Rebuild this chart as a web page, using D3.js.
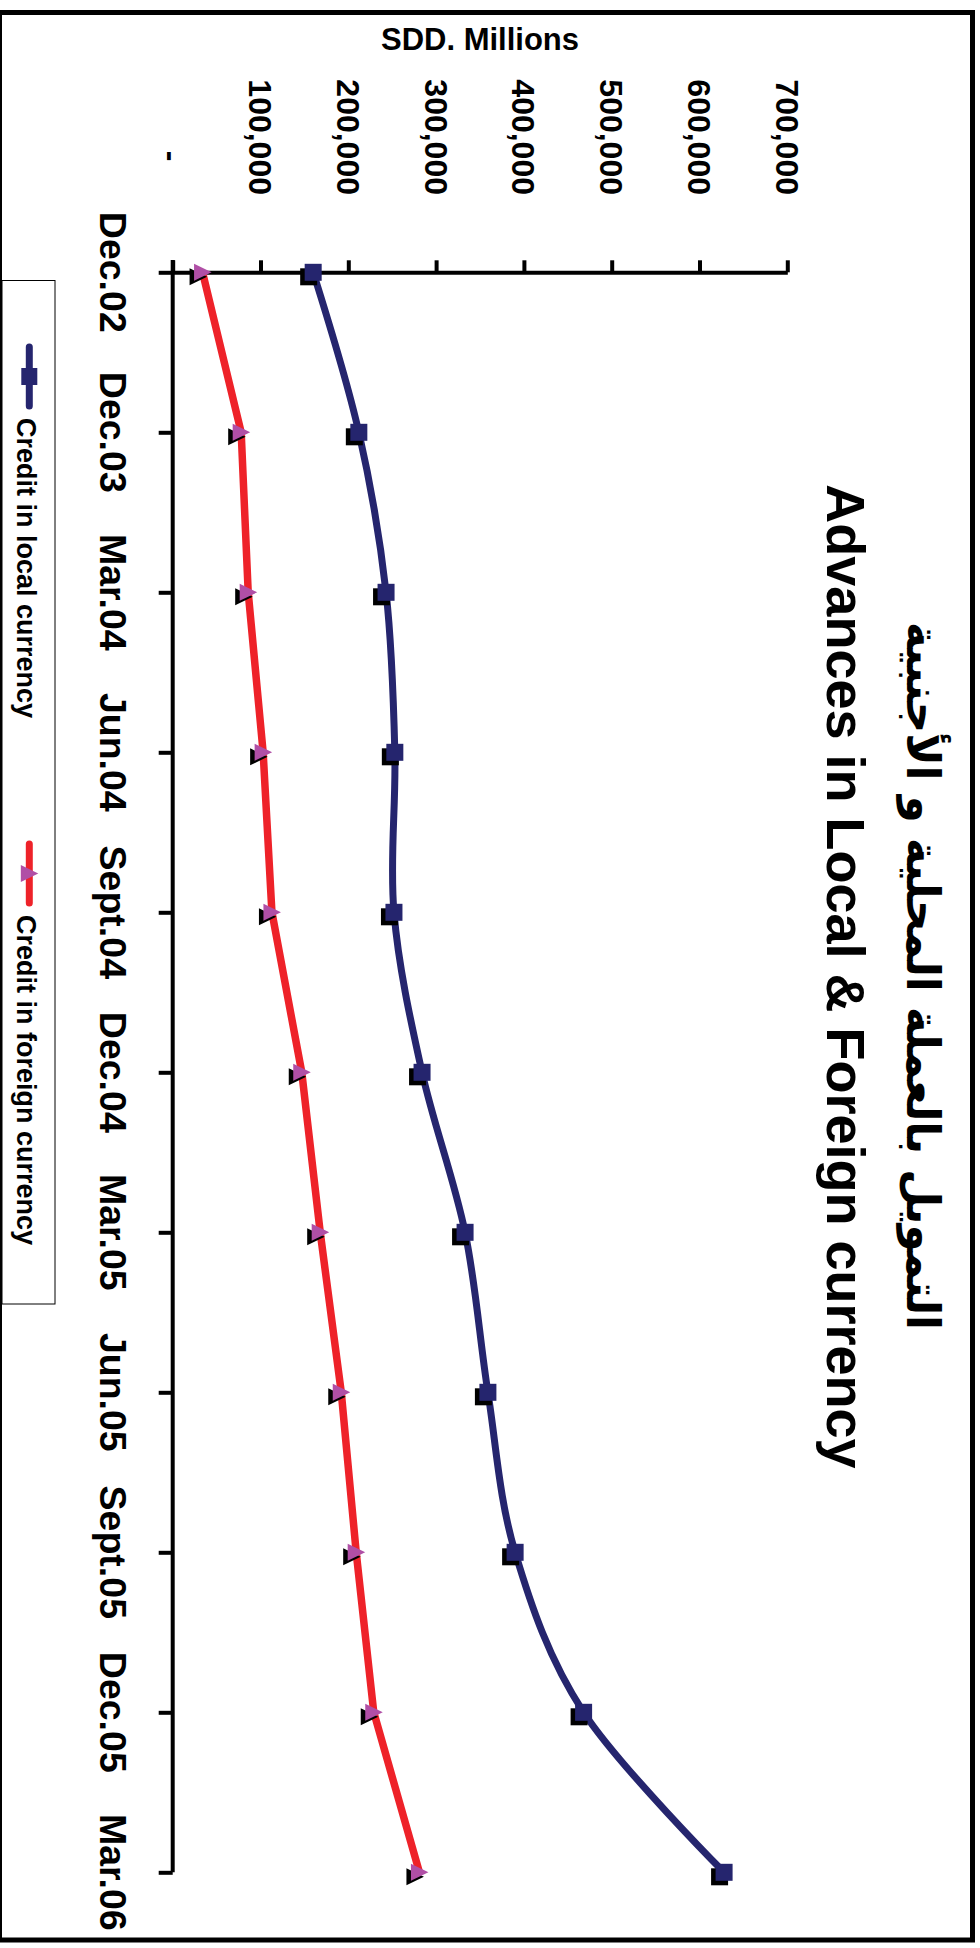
<!DOCTYPE html>
<html><head><meta charset="utf-8">
<script src="https://cdn.jsdelivr.net/npm/d3@7"></script>
<style>
body{margin:0;background:#fff}
svg{display:block}
text{font-family:"Liberation Sans",Arial,Helvetica,sans-serif;font-weight:bold;fill:#000}
</style>
</head><body>
<svg id="c" width="980" height="1948"></svg>
<script>
// ---- data ----
const categories = ["Dec.02","Dec.03","Mar.04","Jun.04","Sept.04","Dec.04","Mar.05","Jun.05","Sept.05","Dec.05","Mar.06"];
const localCredit   = [160000, 212000, 243000, 253000, 252000, 284000, 333000, 359000, 390000, 468000, 628000];
const foreignCredit = [34000, 78000, 86000, 103000, 113000, 147000, 168000, 192000, 209000, 229000, 281000];
const valueTicks = [0, 100000, 200000, 300000, 400000, 500000, 600000, 700000];
const valueTickLabels = ["-", "100,000", "200,000", "300,000", "400,000", "500,000", "600,000", "700,000"];
const seriesNames = ["Credit in local currency", "Credit in foreign currency"];
const titleEn = "Advances in Local & Foreign currency";
const titleAr = "التمويل بالعملة المحلية و الأجنبية";
const axisTitle = "SDD. Millions";

// ---- layout ----
const svg = d3.select("#c");
const navy = "#25256e", red = "#ee2229", magenta = "#b04fa6";

// outer border
svg.append("rect").attr("x", -0.5).attr("y", 12.5).attr("width", 973).attr("height", 1927.5)
  .attr("fill", "none").attr("stroke", "#000").attr("stroke-width", 5);

const x = d3.scaleLinear().domain([0, 700000]).range([172.7, 787.3]);
const y = d3.scalePoint().domain(categories).range([272.3, 1872.3]);

// value axis (horizontal, ticks upward)
const gx = svg.append("g").attr("transform", "translate(0,272.3)")
  .call(d3.axisTop(x).tickValues(valueTicks).tickSize(12).tickSizeOuter(0).tickFormat(""));
gx.selectAll("path,line").attr("stroke", "#000").attr("stroke-width", 4);

// category axis (vertical, ticks leftward)
const gy = svg.append("g").attr("transform", "translate(172.7,0)")
  .call(d3.axisLeft(y).tickSize(14).tickSizeOuter(0).tickFormat(""));
gy.selectAll("path,line").attr("stroke", "#000").attr("stroke-width", 4);
gy.select("path.domain").attr("d", `M0,${260}V${y(categories[categories.length-1])}`);

// value tick labels (rotated)
svg.append("g").selectAll("text").data(valueTicks).join("text")
  .attr("transform", (d, i) => i === 0
      ? `translate(${x(d) - 11.5},156) rotate(90)`
      : `translate(${x(d) - 11.5},195) rotate(90)`)
  .attr("text-anchor", (d, i) => i === 0 ? "middle" : "end")
  .attr("font-size", 32)
  .text((d, i) => valueTickLabels[i]);

// category labels (rotated)
svg.append("g").selectAll("text").data(categories).join("text")
  .attr("transform", d => `translate(100,${y(d)}) rotate(90)`)
  .attr("text-anchor", "middle")
  .attr("font-size", 37.5)
  .text(d => d);

// axis title
svg.append("text").attr("x", (x.range()[0] + x.range()[1]) / 2).attr("y", 50)
  .attr("text-anchor", "middle").attr("font-size", 31).text(axisTitle);

// titles
svg.append("text").attr("transform", "translate(827,976.5) rotate(90)")
  .attr("text-anchor", "middle").attr("font-size", 54).text(titleEn);
svg.append("text").attr("transform", "translate(907,976) rotate(90)")
  .attr("text-anchor", "middle").attr("direction", "rtl")
  .style("font-family", "'DejaVu Sans',sans-serif")
  .attr("font-size", 46).attr("textLength", 708).attr("lengthAdjust", "spacingAndGlyphs")
  .text(titleAr);

// lines
const lineSmooth = d3.line().x(d => x(d.v)).y(d => y(d.c)).curve(d3.curveCatmullRom.alpha(0));
const lineStraight = d3.line().x(d => x(d.v)).y(d => y(d.c));
const localPts = categories.map((c, i) => ({c, v: localCredit[i]}));
const foreignPts = categories.map((c, i) => ({c, v: foreignCredit[i]}));

svg.append("path").datum(foreignPts).attr("d", lineStraight)
  .attr("fill", "none").attr("stroke", red).attr("stroke-width", 7.5).attr("stroke-linejoin", "round");
svg.append("path").datum(localPts).attr("d", lineSmooth)
  .attr("fill", "none").attr("stroke", navy).attr("stroke-width", 7).attr("stroke-linejoin", "round");

const tri = "M-8.5,-8.5L-8.5,8.5L9,0Z";
const S = 17, off = 4.5;
function squares(g, pts, shadow) {
  if (shadow) g.selectAll("rect.sh").data(pts).join("rect").attr("class", "sh")
    .attr("x", d => x(d.v) - S/2 - off).attr("y", d => y(d.c) - S/2 + off)
    .attr("width", S).attr("height", S).attr("fill", "#000");
  g.selectAll("rect.mk").data(pts).join("rect").attr("class", "mk")
    .attr("x", d => x(d.v) - S/2).attr("y", d => y(d.c) - S/2)
    .attr("width", S).attr("height", S).attr("fill", navy);
}
function triangles(g, pts, shadow) {
  if (shadow) g.selectAll("path.sh").data(pts).join("path").attr("class", "sh")
    .attr("transform", d => `translate(${x(d.v) - off},${y(d.c) + off})`).attr("d", tri).attr("fill", "#000");
  g.selectAll("path.mk").data(pts).join("path").attr("class", "mk")
    .attr("transform", d => `translate(${x(d.v)},${y(d.c)})`).attr("d", tri).attr("fill", magenta);
}
triangles(svg.append("g"), foreignPts, true);
squares(svg.append("g"), localPts, true);

// legend
svg.append("rect").attr("x", 2).attr("y", 280.5).attr("width", 53).attr("height", 1023.5)
  .attr("fill", "#fff").attr("stroke", "#000").attr("stroke-width", 1);
const legendItems = [
  {name: seriesNames[0], color: navy, y0: 347, y1: 406, ty: 418, kind: "sq"},
  {name: seriesNames[1], color: red, y0: 844, y1: 903, ty: 915, kind: "tri"}
];
const lg = svg.append("g");
legendItems.forEach(it => {
  lg.append("line").attr("x1", 29.3).attr("x2", 29.3).attr("y1", it.y0).attr("y2", it.y1)
    .attr("stroke", it.color).attr("stroke-width", 7).attr("stroke-linecap", "round");
  const cy = (it.y0 + it.y1) / 2;
  if (it.kind === "sq") lg.append("rect").attr("x", 29.3 - 8).attr("y", cy - 8.5).attr("width", 16).attr("height", 17).attr("fill", navy);
  else lg.append("path").attr("transform", `translate(29.3,${cy})`).attr("d", tri).attr("fill", magenta);
  lg.append("text").attr("transform", `translate(17,${it.ty}) rotate(90)`)
    .attr("font-size", 27).text(it.name);
});
</script>
</body></html>
